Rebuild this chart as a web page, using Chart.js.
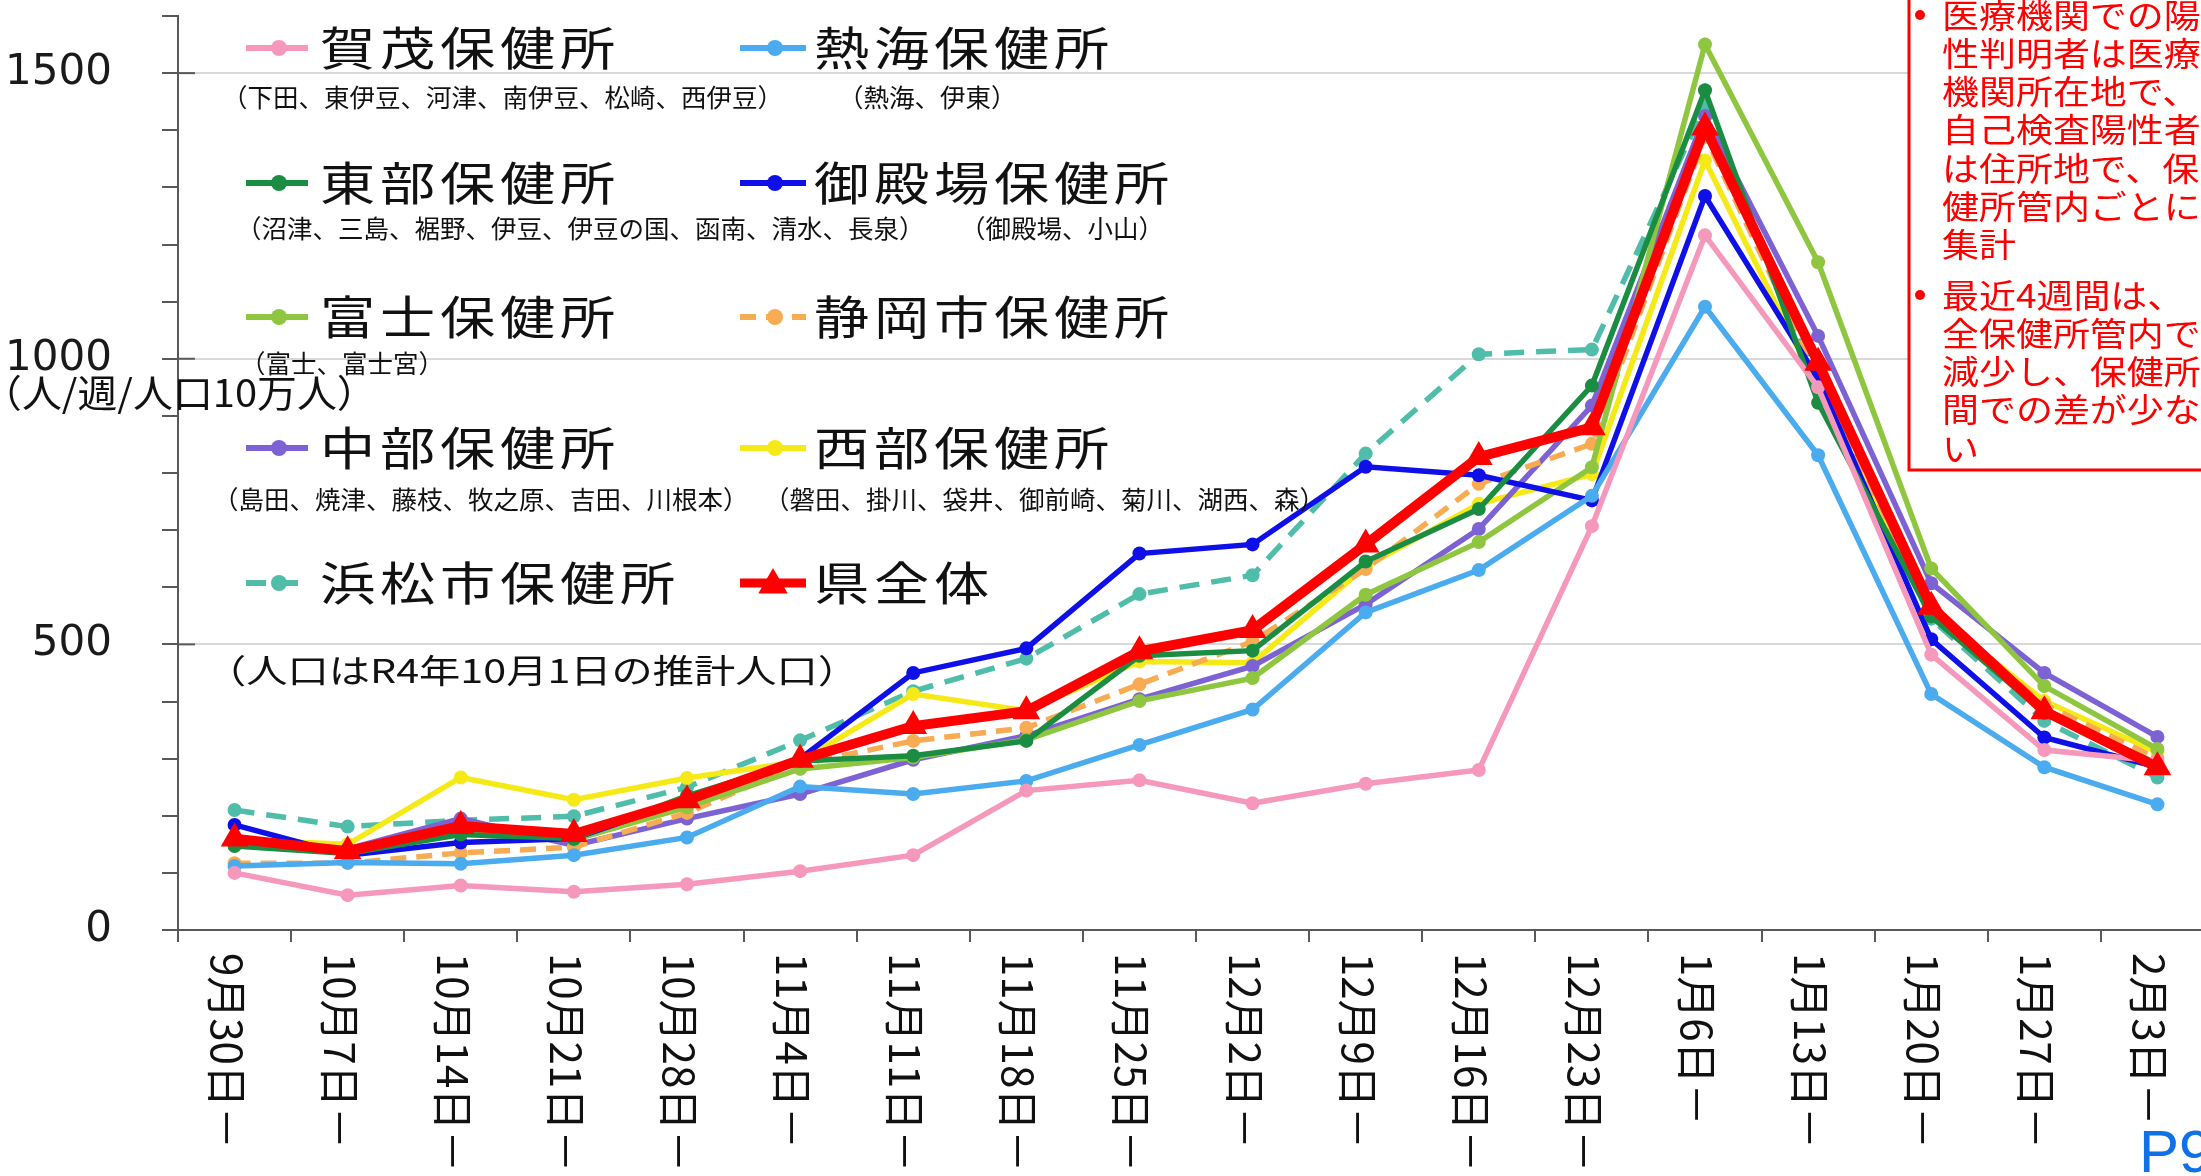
<!DOCTYPE html>
<html>
<head>
<meta charset="utf-8">
<script src="https://cdn.jsdelivr.net/npm/chart.js@4.4.1/dist/chart.umd.min.js"></script>
<style>
html, body { margin: 0; padding: 0; background: #fff; overflow: hidden; }
#wrap { width: 2201px; height: 1176px; overflow: hidden; position: relative; }
</style>
</head>
<body>
<div id="wrap"><canvas id="chart" width="2230" height="1176"></canvas></div>
<script>
// week start labels
const weeks = ['9月30日－','10月7日－','10月14日－','10月21日－','10月28日－','11月4日－','11月11日－','11月18日－','11月25日－','12月2日－','12月9日－','12月16日－','12月23日－','1月6日－','1月13日－','1月20日－','1月27日－','2月3日－'];

// cases per week per 100k population
const kamo      = [100, 61, 78, 67, 80, 103, 131, 244, 262, 222, 256, 280, 707, 1216, 950, 482, 315, 296];
const atami     = [112, 118, 116, 131, 162, 251, 238, 261, 324, 386, 556, 630, 760, 1091, 831, 413, 285, 220];
const tobu      = [147, 134, 167, 160, 235, 296, 305, 331, 480, 489, 645, 737, 953, 1470, 923, 549, 380, 291];
const gotemba   = [184, 131, 153, 160, 228, 300, 450, 493, 659, 675, 811, 796, 752, 1285, 965, 509, 337, 285];
const fuji      = [150, 140, 172, 158, 215, 282, 302, 333, 401, 441, 587, 679, 810, 1550, 1169, 633, 427, 317];
const shizuoka  = [117, 117, 135, 145, 205, 290, 331, 354, 430, 505, 632, 781, 851, 1390, 970, 555, 395, 300];
const chubu     = [150, 142, 195, 148, 195, 238, 298, 340, 404, 462, 570, 702, 918, 1425, 1040, 607, 450, 338];
const seibu     = [158, 150, 267, 228, 266, 295, 413, 384, 470, 468, 636, 746, 798, 1347, 946, 557, 401, 311];
const hamamatsu = [210, 181, 192, 199, 250, 332, 418, 475, 588, 621, 834, 1008, 1016, 1443, 960, 545, 366, 267];
const kenAll    = [160, 138, 182, 168, 227, 298, 357, 383, 488, 525, 675, 828, 880, 1405, 993, 566, 383, 285];

const names = ['賀茂保健所','熱海保健所','東部保健所','御殿場保健所','富士保健所','静岡市保健所','中部保健所','西部保健所','浜松市保健所','県全体'];
const areas = [
  '（下田、東伊豆、河津、南伊豆、松崎、西伊豆）', '（熱海、伊東）',
  '（沼津、三島、裾野、伊豆、伊豆の国、函南、清水、長泉）', '（御殿場、小山）',
  '（富士、富士宮）', '',
  '（島田、焼津、藤枝、牧之原、吉田、川根本）', '（磐田、掛川、袋井、御前崎、菊川、湖西、森）',
  '', ''
];
const yTitle = '（人/週/人口10万人）';
const popNote = '（人口はR4年10月1日の推計人口）';
const noteLines1 = ['医療機関での陽','性判明者は医療','機関所在地で、','自己検査陽性者','は住所地で、保','健所管内ごとに','集計'];
const noteLines2 = ['最近4週間は、','全保健所管内で','減少し、保健所','間での差が少な','い'];

const colors = ['#f598bb','#4aabef','#1b8d42','#0f0fe8','#8fc640','#f7ab52','#7d62d3','#f5ea17','#4fbda9','#ff0000'];
const series = [kamo, atami, tobu, gotemba, fuji, shizuoka, chubu, seibu, hamamatsu, kenAll];

const datasets = series.map((d, i) => {
  const isKen = i === 9;
  return {
    label: names[i],
    data: d,
    borderColor: colors[i],
    backgroundColor: colors[i],
    pointBackgroundColor: colors[i],
    pointBorderWidth: 0,
    borderWidth: isKen ? 10 : 5.5,
    borderDash: (i === 5) ? [16, 10] : (i === 8 ? [20, 12] : []),
    pointRadius: isKen ? 16 : 7,
    pointStyle: isKen ? 'triangle' : 'circle',
    tension: 0,
    order: isKen ? -1 : 1
  };
});

function sText(ctx, s, x, y, sx) {
  ctx.save();
  ctx.translate(x, y);
  ctx.scale(sx, 1);
  ctx.fillText(s, 0, 0);
  ctx.restore();
}

function drawTri(ctx, x, y, r) {
  ctx.beginPath();
  ctx.moveTo(x, y - r);
  ctx.lineTo(x + r * 0.866, y + r * 0.5);
  ctx.lineTo(x - r * 0.866, y + r * 0.5);
  ctx.closePath();
  ctx.fill();
}

const overlay = {
  id: 'overlay',
  afterDraw(chart) {
    const ctx = chart.ctx;
    const xs = chart.scales.x, ys = chart.scales.y;
    ctx.save();

    // major ticks crossing the axis
    ctx.strokeStyle = '#595959';
    ctx.lineWidth = 2;
    [500, 1000, 1500].forEach(v => {
      const y = ys.getPixelForValue(v);
      ctx.beginPath(); ctx.moveTo(xs.left, y); ctx.lineTo(xs.left + 17, y); ctx.stroke();
    });

    // rotated category labels (read top to bottom)
    ctx.fillStyle = '#111';
    ctx.font = '42px "Noto Sans CJK JP"';
    ctx.textAlign = 'left';
    ctx.textBaseline = 'middle';
    weeks.forEach((w, i) => {
      ctx.save();
      ctx.translate(xs.getPixelForValue(i) - 8, 953);
      ctx.rotate(Math.PI / 2);
      ctx.fillText(w, 0, 0);
      ctx.restore();
    });

    // y title
    ctx.font = '38px "Noto Sans CJK JP"';
    ctx.fillStyle = '#111';
    sText(ctx, yTitle, -18, 393, 1.05);

    // legend
    const rowY = [48, 183, 317, 448, 583];
    const subY = [97, 228, 363, 499];
    const colMark = [277, 773], colHalf = [31, 33], colText = [320, 814];
    const subX = [[222, 838], [236, 960], [240, 0], [213, 764]];
    chart.data.datasets.forEach((ds, i) => {
      const row = Math.floor(i / 2), col = i % 2;
      const y = rowY[row], cx = colMark[col];
      ctx.save();
      ctx.strokeStyle = ds.borderColor;
      ctx.fillStyle = ds.borderColor;
      ctx.lineWidth = i === 9 ? 9 : 6;
      ctx.setLineDash(ds.borderDash);
      ctx.beginPath(); ctx.moveTo(cx - colHalf[col], y); ctx.lineTo(cx + colHalf[col], y); ctx.stroke();
      ctx.setLineDash([]);
      if (i === 9) drawTri(ctx, cx, y + 2, 17);
      else { ctx.beginPath(); ctx.arc(cx + 2, y, 8, 0, Math.PI * 2); ctx.fill(); }
      ctx.restore();

      ctx.fillStyle = '#111';
      ctx.font = '46px "Noto Sans CJK JP"';
      ctx.letterSpacing = '4px';
      sText(ctx, ds.label, colText[col], y, 1.2);
      ctx.letterSpacing = '0px';

      if (areas[i]) {
        ctx.font = '25.5px "Noto Sans CJK JP"';
        ctx.fillText(areas[i], subX[row][col], subY[row]);
      }
    });

    ctx.font = '33px "Noto Sans CJK JP"';
    ctx.fillStyle = '#111';
    sText(ctx, popNote, 205, 670, 1.25);

    // note box
    ctx.fillStyle = '#fff';
    ctx.fillRect(1909, -5, 330, 475);
    ctx.strokeStyle = '#ff0000';
    ctx.lineWidth = 3;
    ctx.strokeRect(1909, -5, 330, 475);
    ctx.fillStyle = '#ff0000';
    ctx.font = '33px "Noto Sans CJK JP"';
    ctx.textBaseline = 'middle';
    const lh = 38.3;
    ctx.beginPath(); ctx.arc(1920, 15, 5, 0, Math.PI * 2); ctx.fill();
    noteLines1.forEach((s, k) => sText(ctx, s, 1942, 15 + k * lh, 1.12));
    ctx.beginPath(); ctx.arc(1920, 295, 5, 0, Math.PI * 2); ctx.fill();
    noteLines2.forEach((s, k) => sText(ctx, s, 1942, 295 + k * lh, 1.12));

    // page number
    ctx.fillStyle = '#1070e8';
    ctx.font = '60px "Liberation Sans"';
    ctx.textBaseline = 'alphabetic';
    ctx.fillText('P9', 2139, 1172);

    ctx.restore();
  }
};

new Chart(document.getElementById('chart'), {
  type: 'line',
  data: { labels: weeks, datasets: datasets },
  options: {
    responsive: false,
    animation: false,
    devicePixelRatio: 1,
    layout: { padding: { top: 12, right: 14, left: 0, bottom: 0 } },
    plugins: { legend: { display: false }, tooltip: { enabled: false } },
    scales: {
      x: {
        offset: true,
        grid: { offset: true, drawOnChartArea: false, tickLength: 12, tickColor: '#595959', lineWidth: 2 },
        border: { color: '#595959', width: 2 },
        ticks: { display: false },
        afterFit: s => { s.height = 246; s.paddingLeft = 0; s.paddingRight = 0; }
      },
      y: {
        min: 0, max: 1600,
        ticks: {
          stepSize: 100, autoSkip: false, padding: 50, color: '#1a1a1a',
          font: { family: 'DejaVu Sans', size: 42 },
          callback: v => (v % 500 === 0 ? String(v) : '')
        },
        grid: {
          color: c => (c.tick && c.tick.value % 500 === 0 && c.tick.value > 0) ? '#d9d9d9' : 'rgba(0,0,0,0)',
          tickColor: '#595959', tickLength: 16, lineWidth: 2
        },
        border: { color: '#595959', width: 2 },
        afterFit: s => { s.width = 178; s.paddingTop = 0; s.paddingBottom = 0; }
      }
    }
  },
  plugins: [overlay]
});
</script>
</body>
</html>
